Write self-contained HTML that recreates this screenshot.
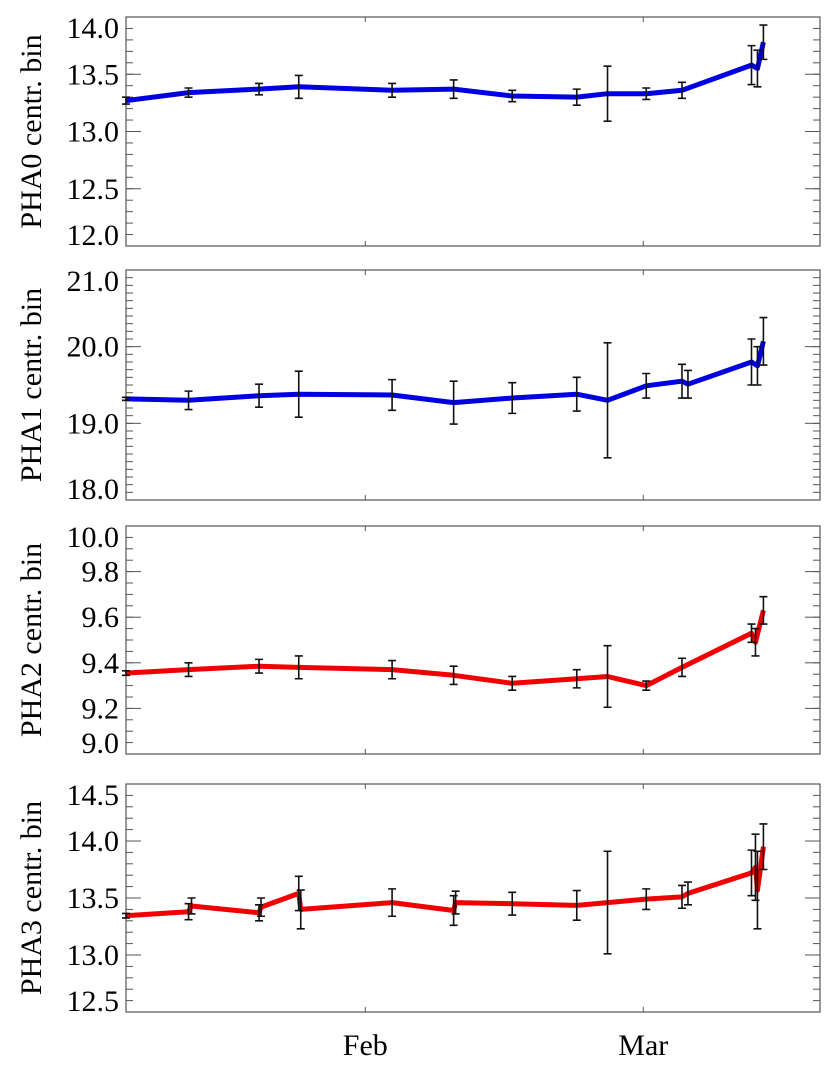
<!DOCTYPE html>
<html><head><meta charset="utf-8">
<style>
html,body{margin:0;padding:0;background:#fff;}
svg{display:block;}
text{font-family:'Liberation Serif','Times New Roman',Times,'Nimbus Roman','DejaVu Serif',serif !important;}
</style></head>
<body>
<svg id="chart" width="835" height="1073" viewBox="0 0 835 1073" xmlns="http://www.w3.org/2000/svg">
</svg>
<script>
// X axis: day of year
const xDomain = [7.9, 77.8];
const monthTicks = [32, 60];
const monthLabels = ["Feb", "Mar"];

// PHA0
const pha0Days = [7.9, 14.2, 21.3, 25.3, 34.7, 40.9, 46.8, 53.3, 56.4, 60.3, 63.9, 70.9, 71.5, 72.1];
const pha0Vals = [13.27, 13.34, 13.37, 13.39, 13.36, 13.37, 13.31, 13.30, 13.33, 13.33, 13.36, 13.58, 13.55, 13.78];
const pha0Errs = [0.03, 0.04, 0.05, 0.10, 0.06, 0.08, 0.05, 0.07, 0.24, 0.05, 0.07, 0.17, 0.16, 0.15];
const pha0Range = [12.0, 14.0];
const pha0Ticks = ["12.0", "12.5", "13.0", "13.5", "14.0"];

// PHA1
const pha1Days = [7.9, 14.2, 21.3, 25.3, 34.7, 40.9, 46.8, 53.3, 56.4, 60.3, 63.9, 64.5, 70.9, 71.5, 72.1];
const pha1Vals = [19.32, 19.30, 19.36, 19.38, 19.37, 19.27, 19.33, 19.38, 19.30, 19.49, 19.55, 19.51, 19.80, 19.75, 20.07];
const pha1Errs = [0.02, 0.12, 0.15, 0.30, 0.20, 0.28, 0.20, 0.22, 0.75, 0.16, 0.22, 0.18, 0.30, 0.25, 0.31];
const pha1Range = [18.0, 21.0];
const pha1Ticks = ["18.0", "19.0", "20.0", "21.0"];

// PHA2
const pha2Days = [7.9, 14.2, 21.3, 25.3, 34.7, 40.9, 46.8, 53.3, 56.4, 60.3, 63.9, 70.9, 71.3, 72.1];
const pha2Vals = [9.355, 9.37, 9.385, 9.38, 9.37, 9.345, 9.31, 9.33, 9.34, 9.30, 9.38, 9.53, 9.49, 9.63];
const pha2Errs = [0.01, 0.03, 0.03, 0.05, 0.04, 0.04, 0.03, 0.04, 0.135, 0.02, 0.04, 0.04, 0.06, 0.06];
const pha2Range = [9.0, 10.0];
const pha2Ticks = ["9.0", "9.2", "9.4", "9.6", "9.8", "10.0"];

// PHA3
const pha3Days = [7.9, 14.2, 14.5, 21.3, 21.5, 25.3, 25.5, 34.7, 40.9, 41.1, 46.8, 53.3, 56.4, 60.3, 63.9, 64.5, 70.9, 71.3, 71.5, 72.1];
const pha3Vals = [13.345, 13.38, 13.43, 13.37, 13.42, 13.54, 13.40, 13.46, 13.39, 13.46, 13.45, 13.435, 13.46, 13.49, 13.51, 13.54, 13.72, 13.77, 13.57, 13.95];
const pha3Errs = [0.02, 0.07, 0.07, 0.07, 0.08, 0.15, 0.17, 0.12, 0.13, 0.10, 0.10, 0.13, 0.45, 0.09, 0.10, 0.10, 0.20, 0.29, 0.34, 0.20];
const pha3Range = [12.5, 14.5];
const pha3Ticks = ["12.5", "13.0", "13.5", "14.0", "14.5"];

const NS = "http://www.w3.org/2000/svg";
const svg = document.getElementById("chart");
const L = 126, R = 820;
function xScale(d){ return L + (d - xDomain[0]) / (xDomain[1] - xDomain[0]) * (R - L); }
function mk(tag, attrs, parent){
  const e = document.createElementNS(NS, tag);
  for (const k in attrs) e.setAttribute(k, attrs[k]);
  (parent || svg).appendChild(e);
  return e;
}

function drawPanel(id, top, bottom, range, ticks, minorStep, days, vals, errs, color, title){
  const g = mk("g", {});
  
  
  const yScale = v => bottom - (v - range[0]) / (range[1] - range[0]) * (bottom - top);
  const nMinor = Math.round((range[1] - range[0]) / minorStep);
  for (let i = 0; i <= nMinor; i++){
    const y = yScale(range[0] + i * minorStep);
    mk("line", {x1: L, x2: L + 7, y1: y, y2: y, stroke: "#555", "stroke-width": 1}, g);
    mk("line", {x1: R, x2: R - 7, y1: y, y2: y, stroke: "#555", "stroke-width": 1}, g);
  }
  ticks.forEach(t => {
    const v = parseFloat(t);
    const y = yScale(v);
    mk("line", {x1: L, x2: L + 15, y1: y, y2: y, stroke: "#555", "stroke-width": 1}, g);
    mk("line", {x1: R, x2: R - 15, y1: y, y2: y, stroke: "#555", "stroke-width": 1}, g);
    const ly = Math.min(Math.max(y, top + 11), bottom - 11);
    const tx = mk("text", {x: 119, y: ly + 10, "text-anchor": "end", "font-size": 30, fill: "#000"}, g);
    
    
    tx.textContent = t;
  });
  monthTicks.forEach(d => {
    const x = xScale(d);
    mk("line", {x1: x, x2: x, y1: top, y2: top + 5, stroke: "#555", "stroke-width": 1}, g);
    mk("line", {x1: x, x2: x, y1: bottom, y2: bottom - 5, stroke: "#555", "stroke-width": 1}, g);
  });
  const fr = mk("rect", {x: L, y: top, width: R - L, height: bottom - top, fill: "none", stroke: "#555", "stroke-width": 1.2}, g);
  
  
  const pts = days.map((d, i) => xScale(d).toFixed(1) + "," + yScale(vals[i]).toFixed(1)).join(" ");
  const pl = mk("polyline", {points: pts, fill: "none", stroke: color, "stroke-width": 5, "stroke-linejoin": "round"}, g);
  
  
  days.forEach((d, i) => {
    const x = xScale(d);
    const y1 = Math.max(yScale(vals[i] + errs[i]), top);
    const y2 = Math.min(yScale(vals[i] - errs[i]), bottom);
    const eb = mk("path", {d: `M${x-4},${y1}H${x+4}M${x},${y1}V${y2}M${x-4},${y2}H${x+4}`, stroke: "#111", "stroke-width": 1.6, fill: "none"}, g);
    
    
  });
  const cy = (top + bottom) / 2;
  const tt = mk("text", {x: 0, y: 0, transform: `translate(41,${cy}) rotate(-90)`, "text-anchor": "middle", "font-size": 30, fill: "#000"}, g);
  
  
  tt.textContent = title;
}

drawPanel("pha0", 17, 246, pha0Range, pha0Ticks, 0.1, pha0Days, pha0Vals, pha0Errs, "#0000e0", "PHA0 centr. bin");
drawPanel("pha1", 270, 500, pha1Range, pha1Ticks, 0.1, pha1Days, pha1Vals, pha1Errs, "#0000e0", "PHA1 centr. bin");
drawPanel("pha2", 526, 754, pha2Range, pha2Ticks, 0.05, pha2Days, pha2Vals, pha2Errs, "#f00000", "PHA2 centr. bin");
drawPanel("pha3", 784, 1012, pha3Range, pha3Ticks, 0.1, pha3Days, pha3Vals, pha3Errs, "#f00000", "PHA3 centr. bin");

monthTicks.forEach((d, i) => {
  const t = mk("text", {x: xScale(d), y: 1055, "text-anchor": "middle", "font-size": 30, fill: "#000"});
  
  
  t.textContent = monthLabels[i];
});
</script>
</body></html>
